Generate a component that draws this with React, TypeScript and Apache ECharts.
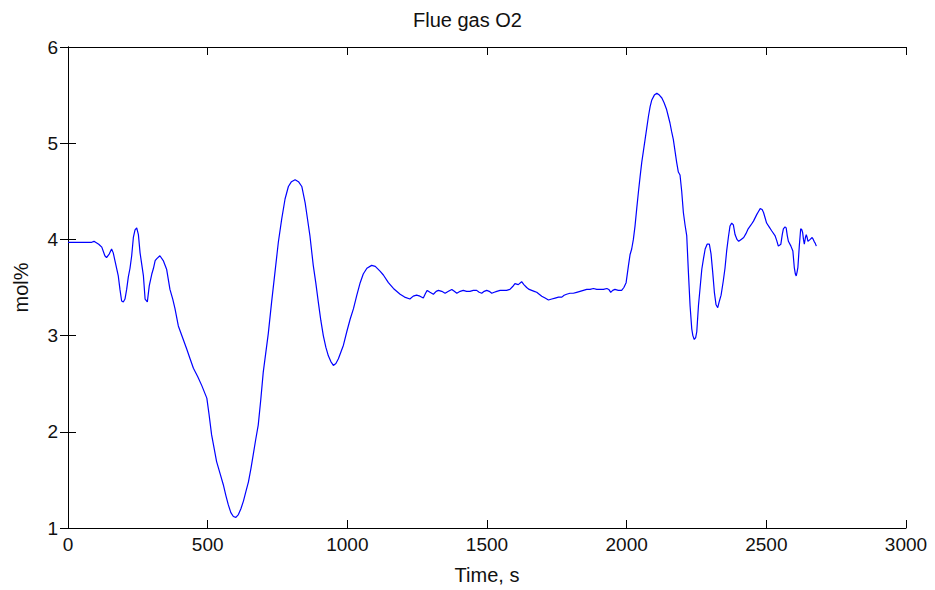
import React, { useEffect, useRef } from "react";
import * as echarts from "echarts";

const titleText = "Flue gas O2";
const xName = "Time, s";
const yName = "mol%";
const xTicks = [0, 500, 1000, 1500, 2000, 2500, 3000];
const yTicks = [1, 2, 3, 4, 5, 6];

const times = [
  0, 40, 85, 93, 110, 121, 132, 138, 148, 156, 162, 168, 180, 186, 192, 198, 204, 210, 216, 222,
  228, 234, 240, 246, 252, 258, 264, 270, 276, 284, 291, 300, 306, 312, 318, 329, 341, 353, 365, 375,
  383, 395, 410, 425, 437, 449, 465, 479, 497, 505, 514, 523, 532, 545, 556, 565, 574, 583, 592, 601,
  610, 619, 628, 637, 646, 655, 663, 672, 681, 690, 699, 708, 717, 729, 741, 753, 765, 777, 789, 800,
  813, 825, 837, 849, 857, 866, 878, 887, 896, 905, 914, 923, 932, 941, 950, 959, 968, 977, 986, 998,
  1010, 1022, 1034, 1046, 1057, 1070, 1087, 1100, 1117, 1129, 1147, 1165, 1189, 1205, 1224, 1236, 1248, 1260, 1272, 1280,
  1286, 1296, 1308, 1318, 1326, 1338, 1350, 1362, 1374, 1383, 1392, 1404, 1415, 1427, 1439, 1451, 1463, 1472, 1481, 1490,
  1499, 1508, 1517, 1526, 1535, 1547, 1559, 1570, 1582, 1592, 1600, 1612, 1624, 1632, 1642, 1651, 1660, 1669, 1678, 1687,
  1696, 1708, 1720, 1732, 1744, 1756, 1768, 1776, 1785, 1797, 1809, 1821, 1833, 1845, 1857, 1869, 1881, 1893, 1905, 1917,
  1929, 1936, 1943, 1950, 1958, 1970, 1982, 1990, 1998, 2006, 2012, 2018, 2024, 2030, 2036, 2042, 2048, 2054, 2060, 2066,
  2072, 2078, 2084, 2090, 2099, 2108, 2117, 2126, 2134, 2143, 2149, 2155, 2161, 2167, 2173, 2179, 2185, 2191, 2197, 2203,
  2209, 2215, 2221, 2227, 2233, 2237, 2242, 2247, 2251, 2257, 2263, 2269, 2275, 2281, 2288, 2296, 2302, 2308, 2314, 2320,
  2326, 2332, 2338, 2346, 2352, 2358, 2364, 2370, 2376, 2382, 2388, 2395, 2401, 2410, 2419, 2427, 2435, 2445, 2454, 2466,
  2472, 2478, 2485, 2490, 2496, 2501, 2510, 2519, 2531, 2537, 2543, 2552, 2557, 2561, 2567, 2571, 2575, 2579, 2588, 2595,
  2600, 2604, 2607, 2610, 2613, 2618, 2623, 2627, 2630, 2633, 2636, 2640, 2643, 2646, 2649, 2653, 2657, 2664, 2668, 2671,
  2675, 2679,
];

const o2 = [
  3.97, 3.97, 3.97, 3.98, 3.95, 3.92, 3.83, 3.81, 3.85, 3.90, 3.86, 3.78, 3.62, 3.48, 3.36, 3.35, 3.38, 3.48, 3.61, 3.70,
  3.83, 4.02, 4.10, 4.12, 4.05, 3.86, 3.74, 3.62, 3.38, 3.35, 3.52, 3.64, 3.70, 3.78, 3.80, 3.83, 3.78, 3.69, 3.48, 3.38,
  3.28, 3.10, 2.98, 2.86, 2.76, 2.66, 2.57, 2.48, 2.35, 2.18, 1.97, 1.83, 1.69, 1.56, 1.45, 1.34, 1.24, 1.16, 1.12, 1.11,
  1.14, 1.20, 1.28, 1.38, 1.48, 1.62, 1.76, 1.92, 2.07, 2.33, 2.62, 2.82, 3.02, 3.35, 3.66, 3.97, 4.21, 4.42, 4.55, 4.60,
  4.62, 4.60, 4.55, 4.38, 4.22, 4.04, 3.73, 3.55, 3.35, 3.16, 3.00, 2.88, 2.79, 2.73, 2.69, 2.71, 2.76, 2.83, 2.90, 3.04,
  3.17, 3.28, 3.42, 3.55, 3.64, 3.70, 3.73, 3.72, 3.67, 3.63, 3.55, 3.49, 3.43, 3.40, 3.38, 3.41, 3.42, 3.41, 3.39, 3.44,
  3.47, 3.45, 3.43, 3.46, 3.47, 3.46, 3.44, 3.46, 3.48, 3.46, 3.44, 3.46, 3.47, 3.46, 3.46, 3.47, 3.47, 3.45, 3.44, 3.46,
  3.47, 3.46, 3.44, 3.45, 3.46, 3.47, 3.47, 3.47, 3.48, 3.51, 3.54, 3.53, 3.56, 3.53, 3.50, 3.48, 3.47, 3.46, 3.45, 3.43,
  3.41, 3.39, 3.37, 3.38, 3.39, 3.40, 3.40, 3.42, 3.43, 3.44, 3.44, 3.45, 3.46, 3.47, 3.48, 3.48, 3.49, 3.48, 3.48, 3.48,
  3.49, 3.48, 3.45, 3.47, 3.48, 3.47, 3.47, 3.50, 3.55, 3.72, 3.84, 3.90, 4.00, 4.14, 4.32, 4.49, 4.65, 4.80, 4.92, 5.04,
  5.16, 5.28, 5.38, 5.45, 5.50, 5.52, 5.50, 5.47, 5.42, 5.35, 5.28, 5.21, 5.12, 5.04, 4.92, 4.80, 4.70, 4.67, 4.50, 4.28,
  4.15, 4.04, 3.66, 3.31, 3.07, 3.00, 2.96, 2.98, 3.04, 3.31, 3.50, 3.69, 3.80, 3.90, 3.95, 3.95, 3.85, 3.66, 3.45, 3.32,
  3.29, 3.36, 3.42, 3.57, 3.70, 3.88, 4.02, 4.14, 4.17, 4.15, 4.05, 4.00, 3.98, 4.00, 4.02, 4.06, 4.11, 4.15, 4.19, 4.26,
  4.29, 4.32, 4.31, 4.28, 4.22, 4.17, 4.13, 4.09, 4.04, 3.99, 3.93, 3.95, 4.05, 4.11, 4.13, 4.12, 4.04, 3.98, 3.93, 3.88,
  3.71, 3.64, 3.62, 3.66, 3.71, 3.93, 4.11, 4.10, 4.07, 4.00, 3.95, 4.02, 4.05, 4.02, 3.98, 3.99, 4.00, 4.02, 4.00, 3.98,
  3.96, 3.93,
];

const FONT = "'Liberation Sans', Arial, sans-serif";

export default function App() {
  const ref = useRef<HTMLDivElement>(null);

  useEffect(() => {
    if (!ref.current) return;
    const chart = echarts.init(ref.current, undefined, { renderer: "svg" });
    const data = times.map((t, i) => [t, o2[i]]);
    const xMin = xTicks[0];
    const xMax = xTicks[xTicks.length - 1];
    const xInt = xTicks[1] - xTicks[0];
    const yMin = yTicks[0];
    const yMax = yTicks[yTicks.length - 1];
    const yInt = yTicks[1] - yTicks[0];
    const axisLine = { show: true, lineStyle: { color: "#000", width: 1 } };
    const tick = { show: true, inside: true, length: 8, lineStyle: { color: "#000", width: 1 } };
    const label = {
      color: "#111",
      fontSize: 19,
      fontFamily: FONT,
      formatter: (v: number) => String(v),
    };

    chart.setOption({
      animation: false,
      backgroundColor: "#fff",
      title: {
        text: titleText,
        left: "center",
        top: 5,
        textStyle: { color: "#111", fontSize: 20, fontWeight: "normal", fontFamily: FONT },
      },
      grid: { left: 68, right: 29, top: 47, bottom: 60, containLabel: false },
      xAxis: [
        {
          type: "value",
          position: "bottom",
          min: xMin,
          max: xMax,
          interval: xInt,
          axisLine,
          axisTick: tick,
          splitLine: { show: false },
          axisLabel: { ...label, margin: 7 },
          name: xName,
          nameLocation: "middle",
          nameGap: 37,
          nameTextStyle: { color: "#111", fontSize: 20, fontFamily: FONT },
        },
        {
          type: "value",
          position: "top",
          min: xMin,
          max: xMax,
          interval: xInt,
          axisLine,
          axisTick: tick,
          splitLine: { show: false },
          axisLabel: { show: false },
        },
      ],
      yAxis: [
        {
          type: "value",
          position: "left",
          min: yMin,
          max: yMax,
          interval: yInt,
          axisLine,
          axisTick: tick,
          splitLine: { show: false },
          axisLabel: { ...label, margin: 10 },
          name: yName,
          nameLocation: "middle",
          nameGap: 37,
          nameTextStyle: { color: "#111", fontSize: 20, fontFamily: FONT },
        },
        {
          type: "value",
          position: "right",
          min: yMin,
          max: yMax,
          interval: yInt,
          axisLine,
          axisTick: tick,
          splitLine: { show: false },
          axisLabel: { show: false },
        },
      ],
      series: [
        {
          type: "line",
          xAxisIndex: 0,
          yAxisIndex: 0,
          data,
          showSymbol: false,
          symbol: "none",
          lineStyle: { color: "#0000ff", width: 1.2 },
        },
      ],
    });
    return () => chart.dispose();
  }, []);

  return (
    <div
      ref={ref}
      style={{ position: "absolute", left: 0, top: 0, width: 935, height: 590, background: "#fff" }}
    />
  );
}
